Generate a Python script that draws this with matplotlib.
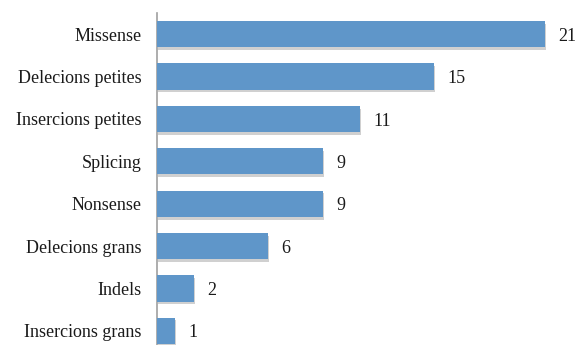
import matplotlib
matplotlib.use("Agg")
import matplotlib.pyplot as plt
import matplotlib.patheffects as pe

categories = ["Missense", "Delecions petites", "Insercions petites", "Splicing",
              "Nonsense", "Delecions grans", "Indels", "Insercions grans"]
values = [21, 15, 11, 9, 9, 6, 2, 1]

plt.rcParams['font.family'] = ['Liberation Serif', 'DejaVu Serif']

fig = plt.figure(figsize=(5.77, 3.45), dpi=100)
ax = fig.add_axes([157/577, -7/345, 406.6/577, 339/345])

ypos = list(range(len(categories)))
bars = ax.barh(ypos, values, height=0.62, color='#5F96C9', zorder=3,
               path_effects=[pe.SimplePatchShadow(offset=(0.5, -2), shadow_rgbFace='#8a8a8a', alpha=0.4),
                             pe.Normal()])
ax.set_ylim(len(categories) - 0.5, -0.5)
ax.set_xlim(0, 22)

for y, v in zip(ypos, values):
    ax.text(v + 0.7, y + 0.05, str(v), va='center', ha='left', fontsize=13, color='#1a1a1a')

ax.set_yticks(ypos)
ax.set_yticklabels(categories, fontsize=13, color='#1a1a1a')
ax.tick_params(axis='y', length=0, pad=11)
ax.set_xticks([])
for s in ['top', 'right', 'bottom']:
    ax.spines[s].set_visible(False)
ax.spines['left'].set_color('#a0a0a0')
ax.spines['left'].set_linewidth(1.2)

fig.savefig("out.png", dpi=100)
